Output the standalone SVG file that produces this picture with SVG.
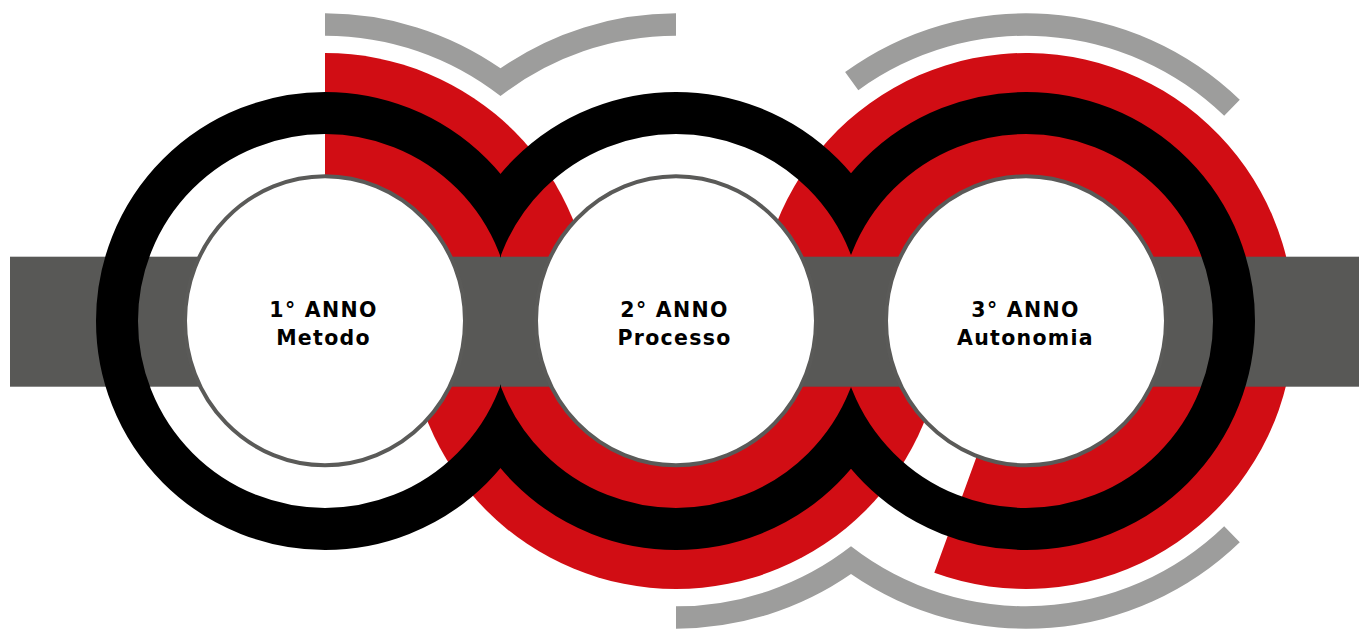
<svg xmlns="http://www.w3.org/2000/svg" width="1359" height="630" viewBox="0 0 1359 630">
  <style>
    .lg { fill: #9d9d9c; }
    .rd { fill: #d10d14; }
    .dg { fill: #585856; }
    .ring { fill: none; stroke: #000000; stroke-width: 42; }
    .node { fill: #ffffff; stroke: #5a5a58; stroke-width: 4; }
    .lbl { font-family: "DejaVu Sans", "Liberation Sans", sans-serif; font-weight: bold; font-size: 20.5px; letter-spacing: 1.3px; fill: #000000; text-anchor: middle; }
  </style>
  <defs>
    <clipPath id="c1"><rect x="0" y="0" width="501" height="630"/></clipPath>
    <clipPath id="c2"><rect x="500" y="0" width="351" height="630"/></clipPath>
    <clipPath id="c3"><rect x="851" y="0" width="508" height="630"/></clipPath>
  </defs>
  <rect width="1359" height="630" fill="#ffffff"/>
  <g id="light-arcs">
    <path class="lg" d="M325,13.3 A307.7,307.7 0 0 1 500.5,68.3 A307.7,307.7 0 0 1 676,13.3 L676,35.7 A285.3,285.3 0 0 0 500.5,96.1 A285.3,285.3 0 0 0 325,35.7 Z"/>
    <path class="lg" d="M845.1,72.1 A307.7,307.7 0 0 1 1239.8,99.7 L1224.2,115.8 A285.3,285.3 0 0 0 858.3,90.2 Z"/>
    <path class="lg" d="M676,628.7 A307.7,307.7 0 0 0 851,574.1 A307.7,307.7 0 0 0 1239.8,542.3 L1224.2,526.2 A285.3,285.3 0 0 1 851,546.3 A285.3,285.3 0 0 1 676,606.3 Z"/>
  </g>
  <g id="red-sectors">
    <path class="rd" d="M325,321 L325,53 A268,268 0 0 1 593,321 Z"/>
    <path class="rd" d="M408,321 A268,268 0 0 0 944,321 Z"/>
    <path class="rd" d="M1026,321 L758,321 A268,268 0 1 1 934.3,572.8 Z"/>
  </g>
  <rect id="band" class="dg" x="10" y="256.7" width="1349" height="130"/>
  <g id="connectors">
    <circle class="ring" cx="325" cy="321" r="208" clip-path="url(#c1)"/>
    <circle class="ring" cx="676" cy="321" r="208" clip-path="url(#c2)"/>
    <circle class="ring" cx="1026" cy="321" r="208" clip-path="url(#c3)"/>
  </g>
  <g id="node-1">
    <ellipse class="node" cx="325" cy="320.8" rx="140" ry="144.5"/>
    <text class="lbl" x="323.5" y="317">1° ANNO</text>
    <text class="lbl" x="323.5" y="345">Metodo</text>
  </g>
  <g id="node-2">
    <ellipse class="node" cx="676" cy="320.8" rx="140" ry="144.5"/>
    <text class="lbl" x="674.5" y="317">2° ANNO</text>
    <text class="lbl" x="674.5" y="345">Processo</text>
  </g>
  <g id="node-3">
    <ellipse class="node" cx="1026" cy="320.8" rx="140" ry="144.5"/>
    <text class="lbl" x="1025.5" y="317">3° ANNO</text>
    <text class="lbl" x="1025.5" y="345">Autonomia</text>
  </g>
</svg>
